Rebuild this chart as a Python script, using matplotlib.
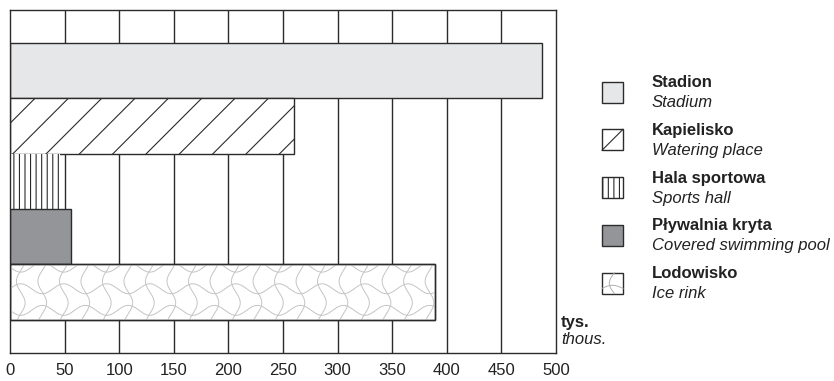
import numpy as np
import matplotlib.pyplot as plt
from matplotlib.patches import Rectangle
from matplotlib.lines import Line2D

plt.rcParams['font.family'] = ['Liberation Sans', 'DejaVu Sans']
plt.rcParams['hatch.linewidth'] = 0.8

categories_pl = ["Stadion", "Kapielisko", "Hala sportowa", "Pływalnia kryta", "Lodowisko"]
categories_en = ["Stadium", "Watering place", "Sports hall", "Covered swimming pool", "Ice rink"]
values = [487, 260, 46, 56, 389]
ticks = [0, 50, 100, 150, 200, 250, 300, 350, 400, 450, 500]

W, H = 834, 381
DARK = "#2b2b2b"
TXT = "#222222"
styles = [
    dict(facecolor="#e6e7e8", edgecolor=DARK, linewidth=1.0, hatch=None),
    dict(facecolor="white", edgecolor=DARK, linewidth=1.0, hatch="/"),
    dict(facecolor="white", edgecolor=DARK, linewidth=0.0, hatch="|||"),
    dict(facecolor="#939598", edgecolor=DARK, linewidth=1.0, hatch=None),
    dict(facecolor="white", edgecolor=DARK, linewidth=1.0, hatch=None),
]


def fx(px):
    return px / W


def fy(py):
    return 1 - py / H


def wavy(ax, bar, xmax, yc):
    # light grey interlocking wave pattern clipped to the bar
    px = 39.4
    py = 0.78
    amp_x = 4.0
    amp_y = 0.09
    t = np.linspace(-40, xmax + 40, 600)
    for k in range(-2, 4):
        y0 = yc - 0.5 + k * py * 0.5 + 0.05
        ph = 0 if k % 2 == 0 else np.pi
        line, = ax.plot(t, y0 + amp_y * np.sin(2 * np.pi * t / px + ph),
                        color="#c4c4c4", lw=0.7, zorder=3)
        line.set_clip_path(bar)
    s = np.linspace(yc - 1, yc + 1, 200)
    x0 = -px / 4
    while x0 < xmax + px:
        line, = ax.plot(x0 + amp_x * np.sin(2 * np.pi * (s - yc) / py),
                        s, color="#c4c4c4", lw=0.7, zorder=3)
        line.set_clip_path(bar)
        x0 += px / 2


fig = plt.figure(figsize=(W / 100, H / 100), dpi=100)
ax = fig.add_axes([fx(10), fy(352.7), fx(556) - fx(10), fy(10) - fy(352.7)])

ypos = np.arange(len(values))
for i, (v, st) in enumerate(zip(values, styles)):
    bars = ax.barh(ypos[i], v, height=1.0, zorder=2, **st)
    if i == 4:
        wavy(ax, bars[0], v, ypos[i])
        ax.barh(ypos[i], v, height=1.0, facecolor="none", edgecolor=DARK,
                linewidth=1.0, zorder=4)

ax.set_xlim(0, 500)
ax.set_ylim(4.5 + 0.595, -0.5 - 0.595)
ax.set_xticks(ticks)
ax.set_xticklabels([str(t) for t in ticks], fontsize=12, color=TXT)
ax.tick_params(axis="x", length=0, pad=7.5)
ax.set_yticks([])
for x in ticks[1:-1]:
    ax.axvline(x, color=DARK, lw=1.0, zorder=1)
for sp in ax.spines.values():
    sp.set_color(DARK)
    sp.set_linewidth(1.0)

fig.text(fx(561), fy(323), "tys.", fontsize=12, fontweight="bold",
         va="center", ha="left", color=TXT)
fig.text(fx(561), fy(339), "thous.", fontsize=12, fontstyle="italic",
         va="center", ha="left", color=TXT)

# legend
for i, (pl, en, st) in enumerate(zip(categories_pl, categories_en, styles)):
    cy = 92 + i * 47.8
    x0, y0 = fx(602), fy(cy + 10.5)
    bw, bh = fx(21), 21 / H
    if i in (1, 4):
        box = Rectangle((x0, y0), bw, bh, transform=fig.transFigure,
                        facecolor="white", edgecolor=DARK, lw=1.0)
        fig.add_artist(box)
        if i == 1:
            fig.add_artist(Line2D([x0, x0 + bw], [y0, y0 + bh],
                                  transform=fig.transFigure, color=DARK, lw=0.8))
        else:
            s = np.linspace(0, 1, 30)
            fig.add_artist(Line2D(x0 + bw * (0.6 - 0.25 * np.sin(np.pi * s)),
                                  y0 + bh * s, transform=fig.transFigure,
                                  color="#b0b0b0", lw=0.7))
            fig.add_artist(Line2D(x0 + bw * s,
                                  y0 + bh * (0.25 + 0.15 * np.sin(np.pi * s)),
                                  transform=fig.transFigure,
                                  color="#b0b0b0", lw=0.7))
    else:
        lw = st["linewidth"] if st["linewidth"] > 0 else 1.0
        box = Rectangle((x0, y0), bw, bh, transform=fig.transFigure,
                        facecolor=st["facecolor"], edgecolor=st["edgecolor"],
                        lw=lw, hatch=st["hatch"])
        fig.add_artist(box)
    fig.text(fx(652), fy(cy - 9.5), pl, fontsize=12, fontweight="bold",
             va="center", ha="left", color=TXT)
    fig.text(fx(652), fy(cy + 10.5), en, fontsize=12, fontstyle="italic",
             va="center", ha="left", color=TXT)

fig.savefig("out.png", dpi=100)
